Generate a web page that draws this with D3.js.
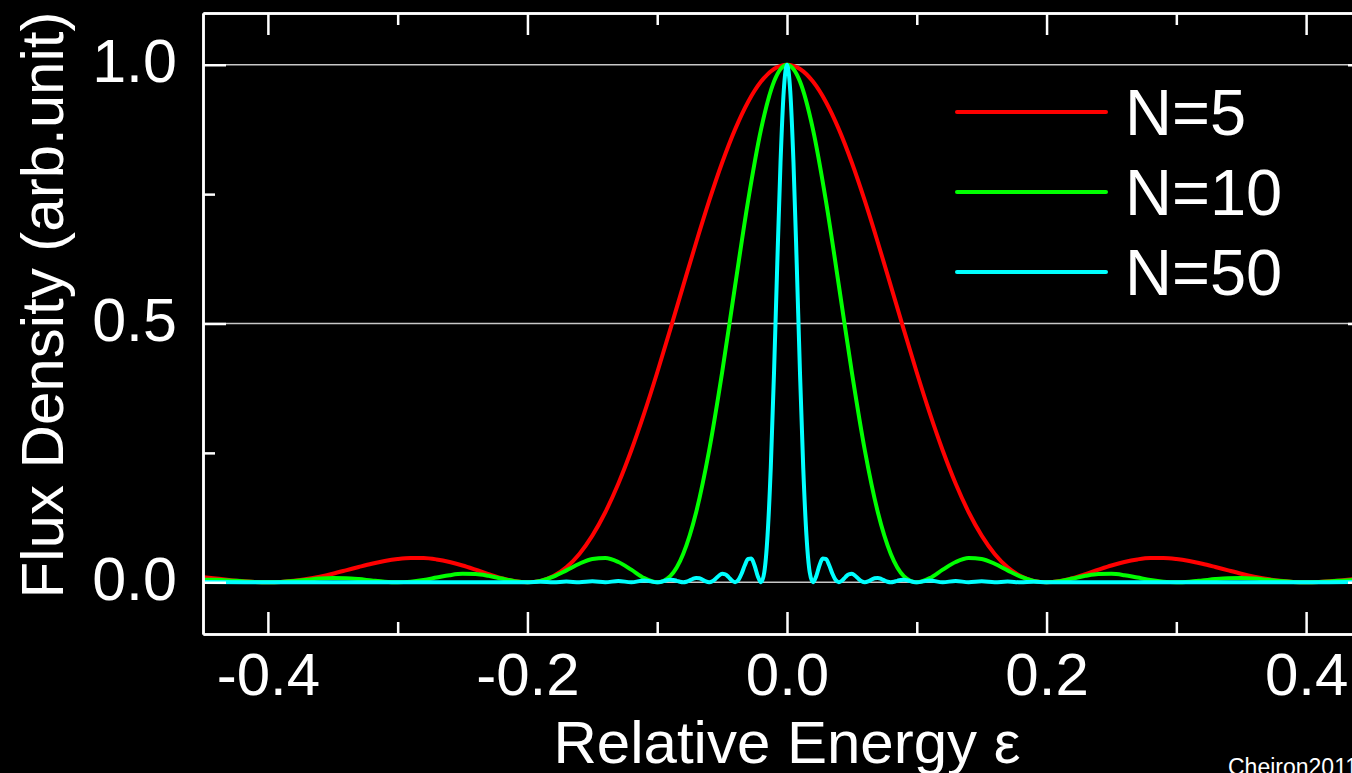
<!DOCTYPE html>
<html>
<head>
<meta charset="utf-8">
<script src="https://cdn.jsdelivr.net/npm/d3@7"></script>
<style>
  html, body { margin: 0; padding: 0; background: #000; overflow: hidden; }
  text { font-family: "Liberation Sans", Arial, sans-serif; fill: #fff; }
</style>
</head>
<body>
<div id="chart"></div>
<script>
// relative energy grid used for N=5 and N=10
var eps = [-0.45, -0.44, -0.43, -0.42, -0.41, -0.4, -0.39, -0.38, -0.37, -0.36, -0.35, -0.34, -0.33, -0.32, -0.31,
  -0.3, -0.29, -0.28, -0.27, -0.26, -0.25, -0.24, -0.23, -0.22, -0.21, -0.2, -0.19, -0.18, -0.17, -0.16,
  -0.15, -0.14, -0.13, -0.12, -0.11, -0.1, -0.09, -0.08, -0.07, -0.06, -0.05, -0.04, -0.03, -0.02, -0.01,
  0, 0.01, 0.02, 0.03, 0.04, 0.05, 0.06, 0.07, 0.08, 0.09, 0.1, 0.11, 0.12, 0.13, 0.14,
  0.15, 0.16, 0.17, 0.18, 0.19, 0.2, 0.21, 0.22, 0.23, 0.24, 0.25, 0.26, 0.27, 0.28, 0.29,
  0.3, 0.31, 0.32, 0.33, 0.34, 0.35, 0.36, 0.37, 0.38, 0.39, 0.4, 0.41, 0.42, 0.43, 0.44, 0.45];

var fluxN5 = [0.0100, 0.0072, 0.0045, 0.0022, 0.0006, 0, 0.0007, 0.0027, 0.0061, 0.0108, 0.0165, 0.0229, 0.0295, 0.0358, 0.0411,
  0.0450, 0.0470, 0.0468, 0.0441, 0.0392, 0.0324, 0.0243, 0.0158, 0.0080, 0.0023, 0, 0.0027, 0.0119, 0.0289, 0.0547,
  0.0901, 0.1353, 0.1904, 0.2546, 0.3267, 0.4053, 0.4881, 0.5728, 0.6566, 0.7368, 0.8106, 0.8751, 0.9281, 0.9675, 0.9918,
  1, 0.9918, 0.9675, 0.9281, 0.8751, 0.8106, 0.7368, 0.6566, 0.5728, 0.4881, 0.4053, 0.3267, 0.2546, 0.1904, 0.1353,
  0.0901, 0.0547, 0.0289, 0.0119, 0.0027, 0, 0.0023, 0.0080, 0.0158, 0.0243, 0.0324, 0.0392, 0.0441, 0.0468, 0.0470,
  0.0450, 0.0411, 0.0358, 0.0295, 0.0229, 0.0165, 0.0108, 0.0061, 0.0027, 0.0007, 0, 0.0006, 0.0022, 0.0045, 0.0072, 0.0100];

var fluxN10 = [0.0050, 0.0047, 0.0036, 0.0020, 0.0006, 0, 0.0006, 0.0024, 0.0048, 0.0071, 0.0083, 0.0079, 0.0061, 0.0034, 0.0010,
  0, 0.0012, 0.0045, 0.0091, 0.0136, 0.0162, 0.0159, 0.0125, 0.0072, 0.0022, 0, 0.0027, 0.0108, 0.0229, 0.0358,
  0.0450, 0.0468, 0.0392, 0.0243, 0.0080, 0, 0.0119, 0.0547, 0.1353, 0.2546, 0.4053, 0.5728, 0.7368, 0.8751, 0.9675,
  1, 0.9675, 0.8751, 0.7368, 0.5728, 0.4053, 0.2546, 0.1353, 0.0547, 0.0119, 0, 0.0080, 0.0243, 0.0392, 0.0468,
  0.0450, 0.0358, 0.0229, 0.0108, 0.0027, 0, 0.0022, 0.0072, 0.0125, 0.0159, 0.0162, 0.0136, 0.0091, 0.0045, 0.0012,
  0, 0.0010, 0.0034, 0.0061, 0.0079, 0.0083, 0.0071, 0.0048, 0.0024, 0.0006, 0, 0.0006, 0.0020, 0.0036, 0.0047, 0.0050];

// finer grid for N=50
var epsN50 = [-0.45, -0.4, -0.3, -0.2, -0.19, -0.18, -0.17, -0.16, -0.15, -0.14, -0.13, -0.12, -0.11, -0.1,
  -0.0975, -0.095, -0.0925, -0.09, -0.0875, -0.085, -0.0825, -0.08,
  -0.0775, -0.075, -0.0725, -0.07, -0.0675, -0.065, -0.0625, -0.06,
  -0.0575, -0.055, -0.0525, -0.05, -0.0475, -0.045, -0.0425, -0.04,
  -0.0375, -0.035, -0.0325, -0.03, -0.0275, -0.025, -0.0225, -0.02,
  -0.0175, -0.015, -0.0125, -0.01, -0.0075, -0.005, -0.0025, 0,
  0.0025, 0.005, 0.0075, 0.01, 0.0125, 0.015, 0.0175, 0.02,
  0.0225, 0.025, 0.0275, 0.03, 0.0325, 0.035, 0.0375, 0.04,
  0.0425, 0.045, 0.0475, 0.05, 0.0525, 0.055, 0.0575, 0.06,
  0.0625, 0.065, 0.0675, 0.07, 0.0725, 0.075, 0.0775, 0.08,
  0.0825, 0.085, 0.0875, 0.09, 0.0925, 0.095, 0.0975, 0.1,
  0.11, 0.12, 0.13, 0.14, 0.15, 0.16, 0.17, 0.18, 0.19, 0.2, 0.3, 0.4, 0.45];

var fluxN50 = [0.0005, 0, 0, 0, 0.0011, 0, 0.0014, 0, 0.0018, 0, 0.0024, 0, 0.0034, 0,
  0.0006, 0.0022, 0.0040, 0.0050, 0.0045, 0.0028, 0.0009, 0,
  0.0010, 0.0036, 0.0066, 0.0083, 0.0076, 0.0048, 0.0015, 0,
  0.0018, 0.0067, 0.0126, 0.0162, 0.0153, 0.0100, 0.0033, 0,
  0.0042, 0.0165, 0.0328, 0.0450, 0.0457, 0.0324, 0.0117, 0,
  0.0194, 0.0901, 0.2214, 0.4053, 0.6150, 0.8106, 0.9496, 1,
  0.9496, 0.8106, 0.6150, 0.4053, 0.2214, 0.0901, 0.0194, 0,
  0.0117, 0.0324, 0.0457, 0.0450, 0.0328, 0.0165, 0.0042, 0,
  0.0033, 0.0100, 0.0153, 0.0162, 0.0126, 0.0067, 0.0018, 0,
  0.0015, 0.0048, 0.0076, 0.0083, 0.0066, 0.0036, 0.0010, 0,
  0.0009, 0.0028, 0.0045, 0.0050, 0.0040, 0.0022, 0.0006, 0,
  0.0034, 0, 0.0024, 0, 0.0018, 0, 0.0014, 0, 0.0011, 0, 0, 0, 0.0005];

var seriesNames = ["N=5", "N=10", "N=50"];
var seriesColors = ["#ff0000", "#00ff00", "#00ffff"];

var xMajor = [-0.4, -0.2, 0, 0.2, 0.4];
var xMinor = [-0.3, -0.1, 0.1, 0.3];
var yMajor = [0, 0.5, 1.0];
var yMinor = [0.25, 0.75];

var width = 1352, height = 773;
// note: "top" is reserved on window, so use plot* names
var plotLeft = 203, plotRight = 1371, plotTop = 13, plotBottom = 634;

var svg = d3.select('#chart')
  .append('svg')
  .attr('width', width)
  .attr('height', height)
  .style('background', '#000')
  .style('display', 'block');

var x = d3.scaleLinear().domain([-0.45, 0.45]).range([plotLeft, plotRight]);
var y = d3.scaleLinear().domain([-0.1, 1.1]).range([plotBottom, plotTop]);

// plain hyphen for negatives, like the original
var fmt = function(d) { return d3.format('.1f')(d).replace('\u2212', '-'); };

svg.append('clipPath').attr('id', 'plot')
  .append('rect')
  .attr('x', plotLeft).attr('y', plotTop)
  .attr('width', plotRight - plotLeft).attr('height', plotBottom - plotTop);

// grid lines at the labelled y values
svg.append('g').selectAll('line')
  .data(yMajor)
  .enter().append('line')
  .attr('x1', plotLeft).attr('x2', plotRight)
  .attr('y1', function(d) { return y(d); })
  .attr('y2', function(d) { return y(d); })
  .attr('stroke', '#c8c8c8')
  .attr('stroke-width', 1.5);

// curves
var series = [
  {name: seriesNames[0], color: seriesColors[0], xs: eps, ys: fluxN5},
  {name: seriesNames[1], color: seriesColors[1], xs: eps, ys: fluxN10},
  {name: seriesNames[2], color: seriesColors[2], xs: epsN50, ys: fluxN50}
];

var line = d3.line()
  .x(function(d) { return x(d[0]); })
  .y(function(d) { return y(d[1]); })
  .curve(d3.curveMonotoneX);

svg.append('g')
  .attr('clip-path', 'url(#plot)')
  .selectAll('path')
  .data(series)
  .enter().append('path')
  .attr('d', function(s) { return line(d3.zip(s.xs, s.ys)); })
  .attr('fill', 'none')
  .attr('stroke', function(s) { return s.color; })
  .attr('stroke-width', 4)
  .attr('stroke-linejoin', 'round');

// axes: ticks point inward on all sides
function styleAxis(g) {
  g.selectAll('.domain').attr('stroke', '#fff').attr('stroke-width', 2.5);
  g.selectAll('.tick line').attr('stroke', '#fff').attr('stroke-width', 2.5);
  g.selectAll('.tick text').attr('fill', '#fff').style('font-family', '"Liberation Sans", Arial, sans-serif');
}

svg.append('g')
  .attr('transform', 'translate(0,' + plotBottom + ')')
  .call(d3.axisBottom(x).tickValues(xMajor).tickSizeInner(-22).tickSizeOuter(0).tickPadding(18)
    .tickFormat(fmt))
  .call(styleAxis)
  .selectAll('.tick text').style('font-size', '60px');

svg.append('g')
  .attr('transform', 'translate(0,' + plotBottom + ')')
  .call(d3.axisBottom(x).tickValues(xMinor).tickSizeInner(-12).tickSizeOuter(0).tickFormat(''))
  .call(styleAxis);

svg.append('g')
  .attr('transform', 'translate(0,' + plotTop + ')')
  .call(d3.axisTop(x).tickValues(xMajor).tickSizeInner(-22).tickSizeOuter(0).tickFormat(''))
  .call(styleAxis);

svg.append('g')
  .attr('transform', 'translate(0,' + plotTop + ')')
  .call(d3.axisTop(x).tickValues(xMinor).tickSizeInner(-12).tickSizeOuter(0).tickFormat(''))
  .call(styleAxis);

svg.append('g')
  .attr('transform', 'translate(' + plotLeft + ',0)')
  .call(d3.axisLeft(y).tickValues(yMajor).tickSizeInner(-23).tickSizeOuter(0).tickPadding(26)
    .tickFormat(fmt))
  .call(styleAxis)
  .selectAll('.tick text').style('font-size', '61px').attr('dy', '0.28em');

svg.append('g')
  .attr('transform', 'translate(' + plotLeft + ',0)')
  .call(d3.axisLeft(y).tickValues(yMinor).tickSizeInner(-12).tickSizeOuter(0).tickFormat(''))
  .call(styleAxis);

svg.append('g')
  .attr('transform', 'translate(' + plotRight + ',0)')
  .call(d3.axisRight(y).tickValues(yMajor).tickSizeInner(-23).tickSizeOuter(0).tickFormat(''))
  .call(styleAxis);

svg.append('g')
  .attr('transform', 'translate(' + plotRight + ',0)')
  .call(d3.axisRight(y).tickValues(yMinor).tickSizeInner(-12).tickSizeOuter(0).tickFormat(''))
  .call(styleAxis);

// axis titles
svg.append('text')
  .attr('x', (plotLeft + plotRight) / 2)
  .attr('y', 763)
  .attr('text-anchor', 'middle')
  .style('font-size', '60px')
  .text('Relative Energy \u03b5');

svg.append('text')
  .attr('transform', 'translate(63,305) rotate(-90)')
  .attr('text-anchor', 'middle')
  .style('font-size', '60px')
  .text('Flux Density (arb.unit)');

// legend
var legend = svg.append('g').attr('transform', 'translate(957,112)');
var item = legend.selectAll('g')
  .data(series)
  .enter().append('g')
  .attr('transform', function(d, i) { return 'translate(0,' + i * 80 + ')'; });

item.append('line')
  .attr('x1', 0).attr('x2', 149)
  .attr('y1', 0).attr('y2', 0)
  .attr('stroke', function(d) { return d.color; })
  .attr('stroke-width', 4)
  .attr('stroke-linecap', 'round');

item.append('text')
  .attr('x', 168)
  .attr('y', 23)
  .style('font-size', '65px')
  .text(function(d) { return d.name; });

svg.append('text')
  .attr('x', 1228)
  .attr('y', 775)
  .style('font-size', '23px')
  .text('Cheiron2011');
</script>
</body>
</html>
